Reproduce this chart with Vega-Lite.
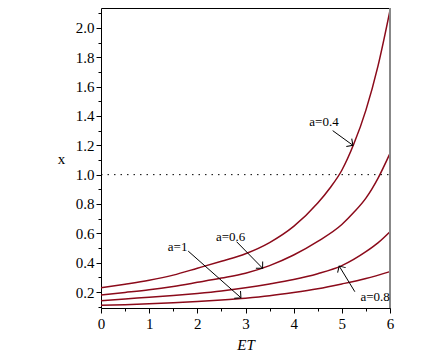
{
  "$schema": "https://vega.github.io/schema/vega-lite/v6.json",
  "width": 289,
  "height": 300,
  "autosize": "none",
  "padding": {"left": 101, "top": 8, "right": 35, "bottom": 47},
  "background": "white",
  "config": {
    "view": {"stroke": "black", "strokeWidth": 1},
    "font": "Liberation Serif, Times New Roman, serif"
  },
  "datasets": {
    "curves": [
      {"a": "0.4", "ET": 0, "x": 0.229}, {"a": "0.4", "ET": 0.5, "x": 0.253}, {"a": "0.4", "ET": 1, "x": 0.28}, {"a": "0.4", "ET": 1.5, "x": 0.315},
      {"a": "0.4", "ET": 2, "x": 0.362}, {"a": "0.4", "ET": 2.5, "x": 0.41}, {"a": "0.4", "ET": 3, "x": 0.461}, {"a": "0.4", "ET": 3.5, "x": 0.537},
      {"a": "0.4", "ET": 4, "x": 0.647}, {"a": "0.4", "ET": 4.5, "x": 0.806}, {"a": "0.4", "ET": 4.75, "x": 0.907}, {"a": "0.4", "ET": 5, "x": 1.03},
      {"a": "0.4", "ET": 5.25, "x": 1.21}, {"a": "0.4", "ET": 5.5, "x": 1.44}, {"a": "0.4", "ET": 5.75, "x": 1.74}, {"a": "0.4", "ET": 6, "x": 2.12},
      {"a": "0.6", "ET": 0, "x": 0.18}, {"a": "0.6", "ET": 0.5, "x": 0.197}, {"a": "0.6", "ET": 1, "x": 0.215}, {"a": "0.6", "ET": 1.5, "x": 0.238},
      {"a": "0.6", "ET": 2, "x": 0.266}, {"a": "0.6", "ET": 2.5, "x": 0.295}, {"a": "0.6", "ET": 3, "x": 0.328}, {"a": "0.6", "ET": 3.5, "x": 0.38},
      {"a": "0.6", "ET": 4, "x": 0.452}, {"a": "0.6", "ET": 4.5, "x": 0.545}, {"a": "0.6", "ET": 5, "x": 0.66}, {"a": "0.6", "ET": 5.25, "x": 0.743},
      {"a": "0.6", "ET": 5.5, "x": 0.84}, {"a": "0.6", "ET": 5.75, "x": 0.975}, {"a": "0.6", "ET": 6, "x": 1.145},
      {"a": "0.8", "ET": 0, "x": 0.141}, {"a": "0.8", "ET": 0.5, "x": 0.153}, {"a": "0.8", "ET": 1, "x": 0.164}, {"a": "0.8", "ET": 1.5, "x": 0.176},
      {"a": "0.8", "ET": 2, "x": 0.19}, {"a": "0.8", "ET": 2.5, "x": 0.207}, {"a": "0.8", "ET": 3, "x": 0.229}, {"a": "0.8", "ET": 3.5, "x": 0.255},
      {"a": "0.8", "ET": 4, "x": 0.285}, {"a": "0.8", "ET": 4.5, "x": 0.325}, {"a": "0.8", "ET": 5, "x": 0.38}, {"a": "0.8", "ET": 5.5, "x": 0.475},
      {"a": "0.8", "ET": 5.75, "x": 0.535}, {"a": "0.8", "ET": 6, "x": 0.611},
      {"a": "1", "ET": 0, "x": 0.109}, {"a": "1", "ET": 0.5, "x": 0.114}, {"a": "1", "ET": 1, "x": 0.12}, {"a": "1", "ET": 1.5, "x": 0.127},
      {"a": "1", "ET": 2, "x": 0.136}, {"a": "1", "ET": 2.5, "x": 0.146}, {"a": "1", "ET": 3, "x": 0.158}, {"a": "1", "ET": 3.5, "x": 0.174},
      {"a": "1", "ET": 4, "x": 0.196}, {"a": "1", "ET": 4.5, "x": 0.222}, {"a": "1", "ET": 5, "x": 0.255}, {"a": "1", "ET": 5.5, "x": 0.292},
      {"a": "1", "ET": 6, "x": 0.339}
    ],
    "arrows": [
      {"label": "a=0.4", "tx": 4.63, "ty": 1.36, "sx": 4.81, "sy": 1.30, "hx": 5.23, "hy": 1.2},
      {"label": "a=0.6", "tx": 2.69, "ty": 0.578, "sx": 2.815, "sy": 0.543, "hx": 3.355, "hy": 0.362},
      {"label": "a=1", "tx": 1.59, "ty": 0.505, "sx": 1.81, "sy": 0.479, "hx": 2.905, "hy": 0.161},
      {"label": "a=0.8", "tx": 5.69, "ty": 0.163, "sx": 5.27, "sy": 0.202, "hx": 4.945, "hy": 0.377}
    ],
    "ref": [{"x0": 0, "x1": 6, "y": 1}],
    "edge": [{"ET": 6}]
  },
  "layer": [
    {
      "data": {"name": "curves"},
      "mark": {"type": "line", "interpolate": "monotone", "color": "#8b0a1a", "strokeWidth": 1.5},
      "encoding": {
        "x": {
          "field": "ET", "type": "quantitative",
          "scale": {"domain": [0, 6], "nice": false},
          "axis": {
            "title": "ET", "titleFont": "Liberation Serif, Times New Roman, serif", "titleFontStyle": "italic", "titleFontWeight": "normal", "titleFontSize": 15, "titleColor": "black",
            "titleY": 36, "titleBaseline": "middle",
            "values": [0, 0.5, 1, 1.5, 2, 2.5, 3, 3.5, 4, 4.5, 5, 5.5, 6],
            "tickCount": 100,
            "labelExpr": "datum.value == round(datum.value) ? format(datum.value, 'd') : ''",
            "labelFont": "Liberation Serif, Times New Roman, serif", "labelFontSize": 15, "labelColor": "black", "labelPadding": 3,
            "domain": false, "grid": false, "tickColor": "black",
            "tickSize": {"condition": {"test": "datum.value == round(datum.value)", "value": 5}, "value": 3},
            "labelFlush": false, "labelOverlap": false
          }
        },
        "y": {
          "field": "x", "type": "quantitative",
          "scale": {"domain": [0.091, 2.136], "nice": false, "zero": false},
          "axis": {
            "title": "x", "titleFont": "Liberation Serif, Times New Roman, serif", "titleFontWeight": "normal", "titleFontSize": 15, "titleColor": "black",
            "titleAngle": 0, "titleX": -40, "titleY": 150, "titleAlign": "center", "titleBaseline": "middle",
            "values": [0.1, 0.2, 0.3, 0.4, 0.5, 0.6, 0.7, 0.8, 0.9, 1.0, 1.1, 1.2, 1.3, 1.4, 1.5, 1.6, 1.7, 1.8, 1.9, 2.0, 2.1],
            "tickCount": 100,
            "labelExpr": "round(datum.value * 10) % 2 == 0 ? format(datum.value, '.1f') : ''",
            "labelFont": "Liberation Serif, Times New Roman, serif", "labelFontSize": 15, "labelColor": "black", "labelPadding": 2,
            "domain": false, "grid": false, "tickColor": "black",
            "tickSize": {"condition": {"test": "round(datum.value * 10) % 2 == 0", "value": 5}, "value": 3},
            "labelFlush": false, "labelOverlap": false
          }
        },
        "detail": {"field": "a", "type": "nominal"}
      }
    },
    {
      "data": {"name": "edge"},
      "mark": {"type": "rule", "color": "#888888", "strokeWidth": 2},
      "encoding": {
        "x": {"field": "ET", "type": "quantitative"}
      }
    },
    {
      "data": {"name": "ref"},
      "mark": {"type": "rule", "color": "black", "strokeWidth": 1, "strokeDash": [1.5, 5]},
      "encoding": {
        "x": {"field": "x0", "type": "quantitative"},
        "x2": {"field": "x1"},
        "y": {"field": "y", "type": "quantitative"}
      }
    },
    {
      "data": {"name": "arrows"},
      "mark": {"type": "rule", "color": "black", "strokeWidth": 1},
      "encoding": {
        "x": {"field": "sx", "type": "quantitative"},
        "y": {"field": "sy", "type": "quantitative"},
        "x2": {"field": "hx"},
        "y2": {"field": "hy"}
      }
    },
    {
      "data": {"name": "arrows"},
      "mark": {"type": "point", "shape": "M-1,-1L0,0L-1,1", "filled": false, "color": "black", "strokeWidth": 1, "size": 90, "opacity": 1},
      "encoding": {
        "x": {"field": "hx", "type": "quantitative"},
        "y": {"field": "hy", "type": "quantitative"},
        "angle": {"field": "label", "type": "nominal", "scale": {"type": "ordinal", "domain": ["a=0.4", "a=0.6", "a=1", "a=0.8"], "range": [34.8, 45.7, 41.5, 238.6]}, "legend": null}
      }
    },
    {
      "data": {"name": "arrows"},
      "mark": {"type": "text", "font": "Liberation Serif, Times New Roman, serif", "fontSize": 13, "color": "black", "align": "center", "baseline": "middle"},
      "encoding": {
        "x": {"field": "tx", "type": "quantitative"},
        "y": {"field": "ty", "type": "quantitative"},
        "text": {"field": "label", "type": "nominal"}
      }
    }
  ]
}
